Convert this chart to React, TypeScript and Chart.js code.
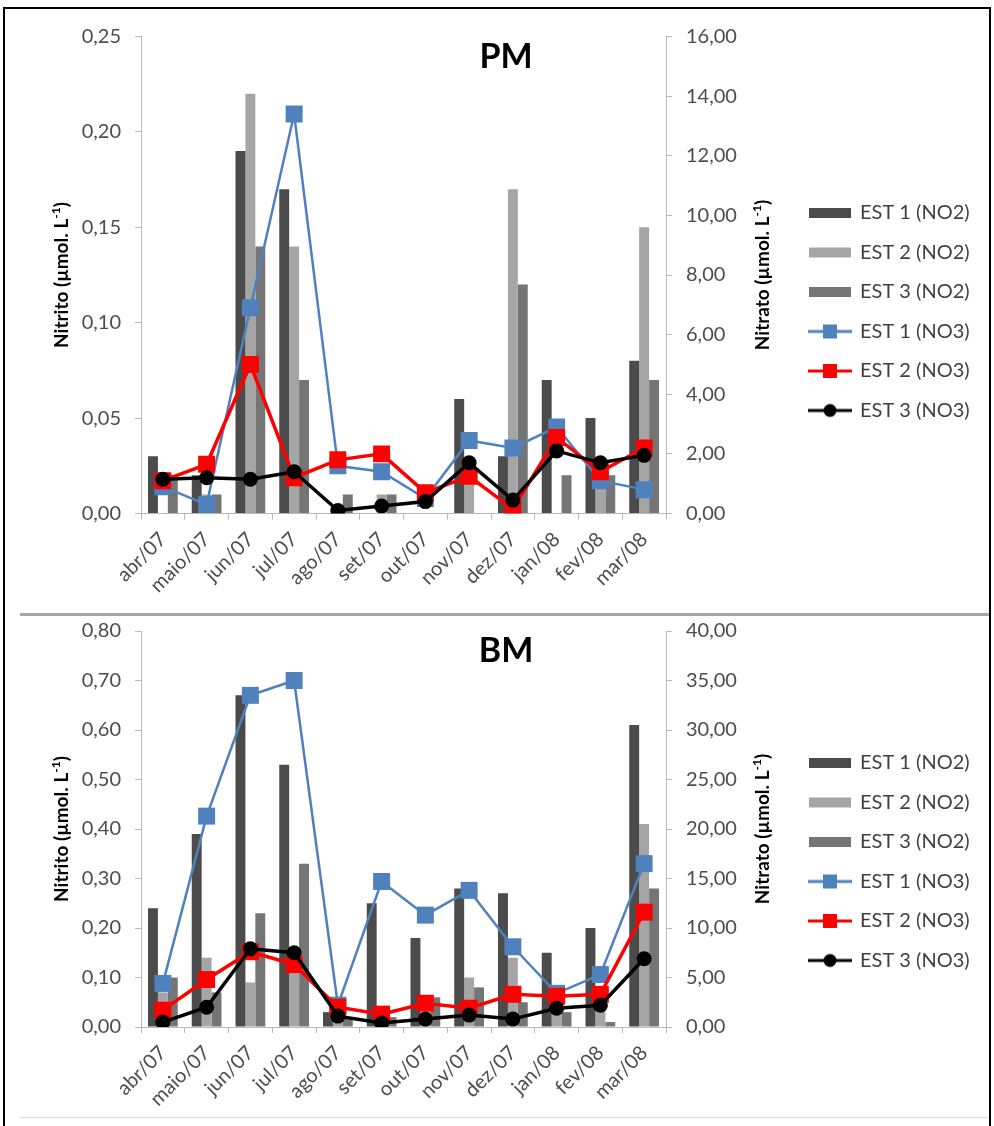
import React, { useEffect, useRef } from 'react';
import { Chart, registerables } from 'chart.js';

Chart.register(...registerables);

// ---------- data ----------
const months = ['abr/07', 'maio/07', 'jun/07', 'jul/07', 'ago/07', 'set/07', 'out/07', 'nov/07', 'dez/07', 'jan/08', 'fev/08', 'mar/08'];

// PM – nitrite (left axis)
const pmNo2Est1 = [0.03, 0.02, 0.19, 0.17, 0.0, 0.0, 0.0, 0.06, 0.03, 0.07, 0.05, 0.08];
const pmNo2Est2 = [0.0, 0.01, 0.22, 0.14, 0.0, 0.01, 0.0, 0.02, 0.17, 0.0, 0.02, 0.15];
const pmNo2Est3 = [0.02, 0.01, 0.14, 0.07, 0.01, 0.01, 0.0, 0.0, 0.12, 0.02, 0.02, 0.07];
// PM – nitrate (right axis)
const pmNo3Est1 = [0.9, 0.3, 6.9, 13.4, 1.6, 1.4, 0.5, 2.45, 2.2, 2.9, 1.1, 0.8];
const pmNo3Est2 = [1.1, 1.65, 5.0, 1.2, 1.8, 2.0, 0.7, 1.25, 0.15, 2.55, 1.4, 2.2];
const pmNo3Est3 = [1.15, 1.2, 1.15, 1.4, 0.1, 0.25, 0.4, 1.7, 0.45, 2.1, 1.7, 1.95];

// BM – nitrite (left axis)
const bmNo2Est1 = [0.24, 0.39, 0.67, 0.53, 0.03, 0.25, 0.18, 0.28, 0.27, 0.15, 0.2, 0.61];
const bmNo2Est2 = [0.07, 0.14, 0.09, 0.12, 0.02, 0.02, 0.03, 0.1, 0.14, 0.04, 0.05, 0.41];
const bmNo2Est3 = [0.1, 0.07, 0.23, 0.33, 0.02, 0.02, 0.06, 0.08, 0.05, 0.03, 0.01, 0.28];
// BM – nitrate (right axis)
const bmNo3Est1 = [4.4, 21.3, 33.5, 35.0, 2.2, 14.7, 11.3, 13.8, 8.1, 3.4, 5.3, 16.5];
const bmNo3Est2 = [1.7, 4.8, 7.6, 6.3, 2.0, 1.3, 2.4, 1.9, 3.3, 3.1, 3.3, 11.6];
const bmNo3Est3 = [0.5, 2.0, 7.9, 7.5, 1.1, 0.4, 0.8, 1.2, 0.8, 1.9, 2.2, 6.9];

const no2Labels = ['EST 1 (NO2)', 'EST 2 (NO2)', 'EST 3 (NO2)'];
const no3Labels = ['EST 1 (NO3)', 'EST 2 (NO3)', 'EST 3 (NO3)'];

// ---------- styles ----------
const FONT = 'Lato, "Open Sans", "Liberation Sans", sans-serif';
const BAR_COLORS = ['#4b4b4b', '#a5a5a5', '#757575'];
const LINE_COLORS = ['#4f81bd', '#ff0000', '#000000'];
const LINE_WIDTHS = [2.5, 3.5, 3.5];
const AXIS_COLOR = '#b8b8b8';
const TICK_COLOR = '#4d4d4d';
const LEGEND_FONT_SIZE = 20;
const LEGEND_PAD = 19.5;
const LEGEND_BOX = 40;

const fmt = (v: number) => Number(v).toFixed(2).replace('.', ',');

function legendImage(kind: string, color: string): HTMLCanvasElement {
  const c = document.createElement('canvas');
  c.width = 44;
  c.height = 16;
  const ctx = c.getContext('2d') as CanvasRenderingContext2D;
  if (kind === 'bar') {
    ctx.fillStyle = color;
    ctx.fillRect(1, 3, 42, 10);
  } else {
    ctx.strokeStyle = color;
    ctx.lineWidth = 3;
    ctx.beginPath();
    ctx.moveTo(0, 8);
    ctx.lineTo(44, 8);
    ctx.stroke();
    ctx.fillStyle = color;
    if (kind === 'square') {
      ctx.fillRect(15, 1, 14, 14);
    } else {
      ctx.beginPath();
      ctx.arc(22, 8, 6.5, 0, Math.PI * 2);
      ctx.fill();
    }
  }
  return c;
}

function drawAxisTitle(ctx: CanvasRenderingContext2D, label: string, x: number, y: number) {
  ctx.save();
  ctx.translate(x, y);
  ctx.rotate(-Math.PI / 2);
  const main = `bold 19px ${FONT}`;
  const sup = `bold 12px ${FONT}`;
  ctx.font = main;
  const w1 = ctx.measureText(label).width;
  const w3 = ctx.measureText(')').width;
  ctx.font = sup;
  const w2 = ctx.measureText('-1').width;
  let cx = -(w1 + w2 + w3) / 2;
  ctx.fillStyle = '#000';
  ctx.textAlign = 'left';
  ctx.textBaseline = 'middle';
  ctx.font = main;
  ctx.fillText(label, cx, 0);
  cx += w1;
  ctx.font = sup;
  ctx.fillText('-1', cx, -6);
  cx += w2;
  ctx.font = main;
  ctx.fillText(')', cx, 0);
  ctx.restore();
}

// panel title + rotated axis titles
const decorPlugin = {
  id: 'decor',
  afterDraw(chart: any, _args: any, opts: any) {
    const ctx = chart.ctx as CanvasRenderingContext2D;
    const a = chart.chartArea;
    ctx.save();
    ctx.fillStyle = '#000';
    ctx.font = `bold 34px ${FONT}`;
    ctx.textAlign = 'center';
    ctx.textBaseline = 'middle';
    ctx.fillText(opts.title, opts.titleX, opts.titleY);
    const midY = (a.top + a.bottom) / 2;
    drawAxisTitle(ctx, 'Nitrito (µmol. L', opts.leftX, midY);
    drawAxisTitle(ctx, 'Nitrato (µmol. L', opts.rightX, midY);
    ctx.restore();
  },
};

// place the legend box where the original has it
const legendPlacer = {
  id: 'legendPlacer',
  afterLayout(chart: any, _args: any, opts: any) {
    const lg = chart.legend;
    if (!lg) return;
    lg.left = opts.left;
    lg.right = chart.width;
    lg.width = lg.right - lg.left;
    lg.top = opts.top;
    lg.bottom = chart.height;
    lg.height = lg.bottom - lg.top;
  },
};

type PanelCfg = {
  title: string;
  left: number;
  top: number;
  w: number;
  h: number;
  no2: number[][];
  no3: number[][];
  yMax: number;
  yStep: number;
  y1Max: number;
  y1Step: number;
  padTop: number;
  legendTop: number;
  xH: number;
  titleX: number;
  titleY: number;
};

function makeConfig(p: PanelCfg): any {
  const imgs = [
    legendImage('bar', BAR_COLORS[0]),
    legendImage('bar', BAR_COLORS[1]),
    legendImage('bar', BAR_COLORS[2]),
    legendImage('square', LINE_COLORS[0]),
    legendImage('square', LINE_COLORS[1]),
    legendImage('circle', LINE_COLORS[2]),
  ];

  const datasets: any[] = [
    ...p.no2.map((d, i) => ({
      type: 'bar',
      label: no2Labels[i],
      data: d,
      backgroundColor: BAR_COLORS[i],
      borderWidth: 0,
      yAxisID: 'y',
      order: 10,
      categoryPercentage: 0.68,
      barPercentage: 1.0,
    })),
    ...p.no3.map((d, i) => ({
      type: 'line',
      label: no3Labels[i],
      data: d,
      borderColor: LINE_COLORS[i],
      backgroundColor: LINE_COLORS[i],
      pointBackgroundColor: LINE_COLORS[i],
      pointBorderColor: LINE_COLORS[i],
      borderWidth: LINE_WIDTHS[i],
      pointStyle: i === 2 ? 'circle' : 'rect',
      pointRadius: i === 2 ? 7.5 : 12,
      pointBorderWidth: 0,
      tension: 0,
      fill: false,
      yAxisID: 'y1',
      order: 3 - i,
    })),
  ];
  const tickFont = { family: FONT, size: 20 };
  const noPad = (s: any) => {
    s.paddingTop = 0;
    s.paddingBottom = 0;
  };
  return {
    type: 'bar',
    data: { labels: months, datasets },
    plugins: [decorPlugin, legendPlacer],
    options: {
      responsive: false,
      animation: false,
      events: [],
      layout: { padding: { top: p.padTop, bottom: 0, left: 0, right: 49.5 } },
      plugins: {
        tooltip: { enabled: false },
        title: { display: false },
        decor: { title: p.title, titleX: p.titleX, titleY: p.titleY, leftX: 57, rightX: 758 },
        legendPlacer: { left: 785.5, top: p.legendTop },
        legend: {
          display: true,
          position: 'right',
          align: 'start',
          maxWidth: 150,
          labels: {
            usePointStyle: true,
            pointStyleWidth: LEGEND_BOX,
            padding: LEGEND_PAD,
            color: '#404040',
            font: { family: FONT, size: LEGEND_FONT_SIZE },
            sort: (a: any, b: any) => a.datasetIndex - b.datasetIndex,
            generateLabels: (chart: any) => {
              const items = Chart.defaults.plugins.legend.labels.generateLabels(chart);
              return items.map((it: any) => ({ ...it, pointStyle: imgs[it.datasetIndex], fontColor: '#404040' }));
            },
          },
        },
      },
      scales: {
        x: {
          offset: true,
          grid: { display: true, drawOnChartArea: false, drawTicks: true, tickLength: 6, color: AXIS_COLOR, offset: true },
          border: { display: true, color: AXIS_COLOR, width: 1 },
          ticks: { color: TICK_COLOR, font: tickFont, minRotation: 45, maxRotation: 45, autoSkip: false, padding: 8 },
          afterFit: (s: any) => {
            s.height = p.xH;
          },
        },
        y: {
          position: 'left',
          min: 0,
          max: p.yMax,
          grid: { display: true, drawOnChartArea: false, drawTicks: true, tickLength: 6, color: AXIS_COLOR },
          border: { display: true, color: AXIS_COLOR, width: 1 },
          ticks: { stepSize: p.yStep, color: TICK_COLOR, font: tickFont, padding: 14, callback: (v: any) => fmt(v) },
          afterFit: (s: any) => {
            s.width = 136;
            noPad(s);
          },
        },
        y1: {
          position: 'right',
          min: 0,
          max: p.y1Max,
          grid: { display: true, drawOnChartArea: false, drawTicks: true, tickLength: 6, color: AXIS_COLOR },
          border: { display: true, color: AXIS_COLOR, width: 1 },
          ticks: { stepSize: p.y1Step, color: TICK_COLOR, font: tickFont, padding: 14, callback: (v: any) => fmt(v) },
          afterFit: (s: any) => {
            s.width = 124.5;
            noPad(s);
          },
        },
      },
    },
  };
}

function Panel({ cfg }: { cfg: PanelCfg }) {
  const ref = useRef<HTMLCanvasElement>(null);
  useEffect(() => {
    const chart = new Chart(ref.current as HTMLCanvasElement, makeConfig(cfg));
    return () => chart.destroy();
  }, []);
  return (
    <canvas
      ref={ref}
      width={cfg.w}
      height={cfg.h}
      style={{ position: 'absolute', left: cfg.left, top: cfg.top, width: cfg.w, height: cfg.h }}
    />
  );
}

const topPanel: PanelCfg = {
  title: 'PM',
  left: 5,
  top: 8,
  w: 985,
  h: 607,
  no2: [pmNo2Est1, pmNo2Est2, pmNo2Est3],
  no3: [pmNo3Est1, pmNo3Est2, pmNo3Est3],
  yMax: 0.25,
  yStep: 0.05,
  y1Max: 16,
  y1Step: 2,
  padTop: 28.5,
  legendTop: 175.5,
  xH: 101.5,
  titleX: 501,
  titleY: 49,
};

const bottomPanel: PanelCfg = {
  title: 'BM',
  left: 5,
  top: 617,
  w: 985,
  h: 509,
  no2: [bmNo2Est1, bmNo2Est2, bmNo2Est3],
  no3: [bmNo3Est1, bmNo3Est2, bmNo3Est3],
  yMax: 0.8,
  yStep: 0.1,
  y1Max: 40,
  y1Step: 5,
  padTop: 14,
  legendTop: 116.5,
  xH: 99,
  titleX: 501,
  titleY: 34,
};

export default function App() {
  return (
    <div style={{ position: 'absolute', left: 0, top: 0, width: 994, height: 1126, background: '#fff', overflow: 'hidden' }}>
      <Panel cfg={topPanel} />
      <Panel cfg={bottomPanel} />
      <div style={{ position: 'absolute', left: 20, top: 613, width: 969, height: 3, background: '#a6a6a6' }} />
      <div style={{ position: 'absolute', left: 20, top: 1117, width: 969, height: 1, background: '#dcdcdc' }} />
      <div
        style={{
          position: 'absolute',
          left: 3,
          top: 7,
          width: 984,
          height: 1130,
          borderLeft: '2px solid #000',
          borderTop: '2px solid #000',
          borderRight: '2px solid #000',
          pointerEvents: 'none',
        }}
      />
    </div>
  );
}
